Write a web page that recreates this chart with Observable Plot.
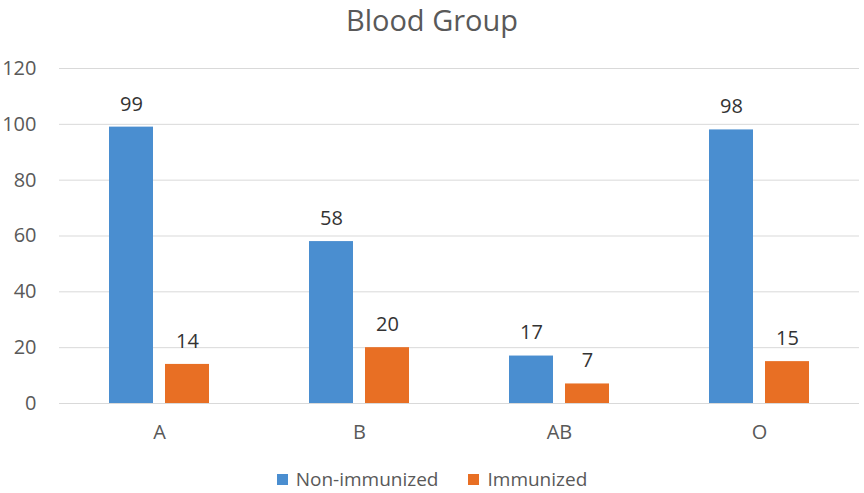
<!DOCTYPE html>
<html>
<head>
<meta charset="utf-8">
<script src="https://cdn.jsdelivr.net/npm/d3@7"></script>
<script src="https://cdn.jsdelivr.net/npm/@observablehq/plot@0.6"></script>
<style>
  html, body { margin: 0; padding: 0; background: #fff; }
  body { width: 864px; height: 493px; overflow: hidden; font-family: "Open Sans", sans-serif; }
  #title { height: 40px; text-align: center; font-size: 29px; line-height: 39px; color: #595959; }
  #legend { display: flex; justify-content: center; align-items: center; gap: 30px; margin-top: 11px; font-size: 19px; color: #595959; }
  .item { display: flex; align-items: center; gap: 8px; }
  .sw { width: 11px; height: 11px; display: inline-block; }
</style>
</head>
<body>
<div id="title">Blood Group</div>
<div id="chart"></div>
<div id="legend"></div>
<script>
const categories = ["A", "B", "AB", "O"];
const series = ["Non-immunized", "Immunized"];
const nonImmunized = [99, 58, 17, 98];
const immunized = [14, 20, 7, 15];
const yTicks = [0, 20, 40, 60, 80, 100, 120];
const colors = ["#4a8ed0", "#e86f24"];

const data = categories.flatMap((c, i) => [
  {cat: c, series: series[0], value: nonImmunized[i]},
  {cat: c, series: series[1], value: immunized[i]}
]);

const chart = Plot.plot({
  width: 864,
  height: 415,
  marginLeft: 57,
  marginRight: 4,
  marginTop: 28,
  marginBottom: 52,
  style: {fontFamily: "Open Sans, sans-serif", background: "#fff"},
  fx: {domain: categories, padding: 0, label: null},
  x: {domain: series, axis: null, paddingInner: 0.21, paddingOuter: 0.866},
  y: {domain: [0, 120], label: null},
  color: {domain: series, range: colors},
  marks: [
    Plot.gridY(yTicks, {stroke: "#d9d9d9", strokeOpacity: 1, strokeWidth: 1}),
    Plot.axisY(yTicks, {tickSize: 0, tickPadding: 23, fontSize: 20, fill: "#595959", label: null}),
    Plot.barY(data, {fx: "cat", x: "series", y: "value", fill: "series"}),
    Plot.text(data, {fx: "cat", x: "series", y: "value", text: d => String(d.value), dy: -23, fontSize: 20, fill: "#333"}),
    Plot.axisFx({anchor: "bottom", tickSize: 0, tickPadding: 21, fontSize: 20, fill: "#595959", label: null})
  ]
});
document.getElementById("chart").appendChild(chart);

const legend = document.getElementById("legend");
series.forEach((s, i) => {
  const item = document.createElement("div");
  item.className = "item";
  const sw = document.createElement("span");
  sw.className = "sw";
  sw.style.background = colors[i];
  const t = document.createElement("span");
  t.textContent = s;
  item.appendChild(sw);
  item.appendChild(t);
  legend.appendChild(item);
});
</script>
</body>
</html>
